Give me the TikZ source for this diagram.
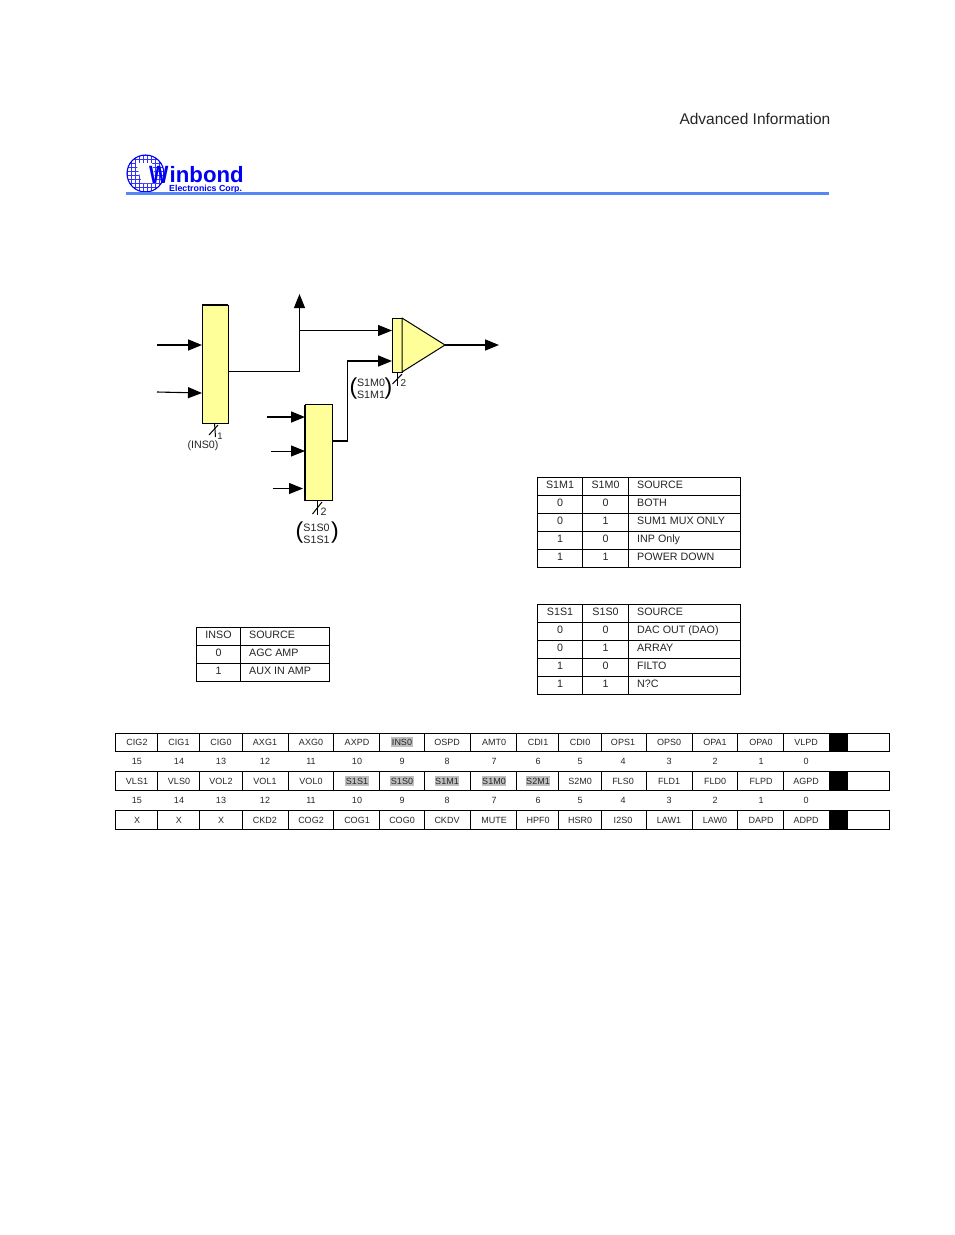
\documentclass[tikz,border=0pt]{standalone}
\usepackage{fontspec}
\setmainfont{Liberation Sans}
\usetikzlibrary{arrows.meta,calc}
\definecolor{muxfill}{RGB}{255,255,153}
\definecolor{wblue}{RGB}{0,0,245}
\definecolor{ruleblue}{RGB}{85,135,245}
\definecolor{hl}{RGB}{190,190,190}
\tikzset{
  x=1pt,y=-1pt,
  mux/.style={draw=black,fill=muxfill,line width=1pt,minimum width=26pt,inner sep=0,outer sep=0},
  sigthick/.style={line width=1.6pt,-{Triangle[length=14pt,width=11pt]}},
  sigthin/.style={line width=.9pt,-{Triangle[length=14pt,width=11pt]}},
  wire/.style={line width=1pt},
  wirethick/.style={line width=1.6pt},
  lbl/.style={font=\fontsize{10.7}{12}\selectfont,inner sep=0,text height=7.7pt,text depth=0pt,text=black!85},
  reg/.style={font=\fontsize{9}{11}\selectfont,inner sep=0,text height=6.5pt,text depth=0pt,text=black!85},
  reghl/.style={reg,fill=hl,inner xsep=.5pt,inner ysep=2pt},
  grid/.style={line width=.9pt,draw=black},
  gridfine/.style={line width=.4pt,draw=wblue!80}
}
\begin{document}
\begin{tikzpicture}
\useasboundingbox (0,0) rectangle (954,1235);
\fill[white] (0,0) rectangle (954,1235);
% header
\node[font=\fontsize{15.5}{17}\selectfont,anchor=east,inner sep=0,text=black!85] (hdr) at (830.5,119) {Advanced Information};
% logo
\begin{scope}
 \clip (145.5,173.5) circle (18.5);
 \foreach \i in {0,...,9} {
   \draw[gridfine] (127+4*\i,155)--(127+4*\i,192);
   \draw[gridfine] (127,155+4*\i)--(164,155+4*\i);
 }
 \fill[white] (136,163)--(152,163)--(156,183)--(142,183)--cycle;
\end{scope}
\draw[wblue,line width=1.1pt] (145.5,173.5) circle (18.5);
\node[font=\fontsize{25}{25}\bfseries\selectfont,text=wblue,anchor=base west,inner sep=0,xscale=.82] (logoW) at (149,183.5) {W};
\node[font=\fontsize{22.2}{24}\bfseries\selectfont,text=wblue,anchor=base west,inner sep=0] (logoT) at (169.5,182.5) {inbond};
\node[font=\fontsize{8.8}{10}\bfseries\selectfont,text=wblue,anchor=base west,inner sep=0] (logoS) at (169,191) {Electronics Corp.};
\path[fill=ruleblue,draw=ruleblue,line width=.5pt] (126,192.7) rectangle (828,194.1);

% diagram
\node[mux,minimum height=118pt,anchor=north west] (m1) at (202,305) {};
\draw[line width=1.8pt] (m1.north west)--(m1.north east);
\node[mux,minimum height=96pt,minimum width=27pt,anchor=north west] (m2) at (305,404.5) {};
\draw[line width=1.8pt] (m2.north west)--(m2.north east);
\draw[line width=1.8pt] (m2.north west)--(m2.south west);
\node[mux,minimum width=10pt,minimum height=54pt,anchor=north west] (m3) at (392,318) {};
\draw[black,fill=muxfill,line width=1pt,line join=round] (402,318)--(445,345)--(402,372)--cycle;
\coordinate (apex) at (445,345);

\coordinate (i1) at (157,345);
\coordinate (i2) at (157,392);
\coordinate (i3) at (267,417);
\coordinate (i4) at (271,451);
\coordinate (i5) at (272.5,488.5);
\coordinate (o) at (499,345);
\coordinate (up) at (299.5,294);
\draw[sigthick] (i1)--(m1.west |- i1);
\draw[sigthin,line width=1.1pt] (i2)--(202,393);
\draw[sigthick] (i3)--(m2.west |- i3);
\draw[sigthin] (i4)--(m2.west |- i4);
\draw[sigthin] (i5)--(303,488.5);
\draw[sigthick] (apex)--(o);
\coordinate (m1o) at (m1.east |- 0,371.5);
\draw[wire,-{Triangle[length=14pt,width=11pt]}] (m1o)-|(up);
\coordinate (branch) at (299.5,330.5);
\draw[sigthin] (branch)--(m3.west |- branch);
\coordinate (m2o) at (m2.east |- 0,441);
\coordinate (m3i) at (m3.west |- 0,361);
\draw[wirethick,line join=miter] (m2o)--(347.5,441)--(347.5,361)--(380,361);
\draw[sigthick] (347.5,361)--(m3i);

% bus ticks
\draw[wire] (214.5,423)--(215.5,437);
\draw[wire] (209,435)--(218,425);
\node[reg,font=\fontsize{9.5}{10}\selectfont] (n1) at (220,436) {1};
\node[lbl] (ins) at (203,444.5) {(INS0)};
\draw[wire] (317,500)--(317,515);
\draw[wire] (312.5,514)--(322,502);
\node[lbl] (n2) at (323.5,511.5) {2};
\draw[wire] (397,372)--(397,386);
\draw[wire] (392.5,384)--(402,374);
\node[reg,font=\fontsize{10}{10}\selectfont] (n3) at (403.5,383.5) {2};
\node[lbl] (s1s0) at (316.5,527.5) {S1S0};
\node[lbl] (s1s1) at (316.5,540) {S1S1};
\node[font=\fontsize{23}{24}\selectfont,inner sep=0] (p1) at (299.5,532.5) {(};
\node[font=\fontsize{23}{24}\selectfont,inner sep=0] (p2) at (335,532.5) {)};
\node[lbl] (s1m0) at (371,382.5) {S1M0};
\node[lbl] (s1m1) at (371,394.5) {S1M1};
\node[font=\fontsize{23}{24}\selectfont,inner sep=0] (p3) at (353.5,388.5) {(};
\node[font=\fontsize{23}{24}\selectfont,inner sep=0] (p4) at (388.5,388.5) {)};

% table S1M
\draw[grid] (537.5,477) rectangle (740.5,567);
\foreach \y in {495,513,531,549} \draw[grid] (537.5,\y)--(740.5,\y);
\foreach \x in {582.5,628.5} \draw[grid] (\x,477)--(\x,567);
\foreach \a/\b/\c [count=\n] in {S1M1/S1M0/SOURCE,0/0/BOTH,0/1/SUM1 MUX ONLY,1/0/INP Only,1/1/POWER DOWN} {
  \node[lbl] (ta\n) at (560,466.5+18*\n) {\a};
  \node[lbl] (tb\n) at (605.5,466.5+18*\n) {\b};
  \node[lbl,anchor=west] (tc\n) at (637,466.5+18*\n) {\c};
}
% table S1S
\draw[grid] (537.5,604.5) rectangle (740.5,694.5);
\foreach \y in {622.5,640.5,658.5,676.5} \draw[grid] (537.5,\y)--(740.5,\y);
\foreach \x in {582.5,628.5} \draw[grid] (\x,604.5)--(\x,694.5);
\foreach \a/\b/\c [count=\n] in {S1S1/S1S0/SOURCE,0/0/DAC OUT (DAO),0/1/ARRAY,1/0/FILTO,1/1/N?C} {
  \node[lbl] (ua\n) at (560,593.5+18*\n) {\a};
  \node[lbl] (ub\n) at (605.5,593.5+18*\n) {\b};
  \node[lbl,anchor=west] (uc\n) at (637,593.5+18*\n) {\c};
}
% table INS
\draw[grid] (196.5,627.5) rectangle (329.5,681.5);
\foreach \y in {645.5,663.5} \draw[grid] (196.5,\y)--(329.5,\y);
\draw[grid] (240.5,627.5)--(240.5,681.5);
\foreach \a/\c [count=\n] in {INSO/SOURCE,0/AGC AMP,1/AUX IN AMP} {
  \node[lbl] (va\n) at (218.5,616.5+18*\n) {\a};
  \node[lbl,anchor=west] (vc\n) at (249,616.5+18*\n) {\c};
}
% registers
\foreach \t/\b in {733/751,771.5/790.5,810.5/829.5} {
  \draw[grid] (115.5,\t) rectangle (889.5,\b);
  \foreach \x in {157.5,199.5,242.5,288.5,333.5,379.5,424.5,470.5,516.5,558.5,601.5,646.5,692.5,737.5,783.5,829.5}
    \draw[grid] (\x,\t)--(\x,\b);
  \fill[black] (829.5,\t) rectangle (848,\b);
}
\def\colx{137,179,221,265,311,357,402,447,494,538,580,623,669,715,761,806}
\foreach \x [count=\n] in \colx {
  \pgfmathtruncatemacro\v{16-\n}
  \node[reg] (na\n) at (\x,761) {\v};
  \node[reg] (nb\n) at (\x,800) {\v};
}
\foreach \x/\s/\h [count=\n] in {137/CIG2/reg,179/CIG1/reg,221/CIG0/reg,265/AXG1/reg,311/AXG0/reg,357/AXPD/reg,402/INS0/reghl,447/OSPD/reg,494/AMT0/reg,538/CDI1/reg,580/CDI0/reg,623/OPS1/reg,669/OPS0/reg,715/OPA1/reg,761/OPA0/reg,806/VLPD/reg}
  \node[\h] (ra\n) at (\x,742) {\s};
\foreach \x/\s/\h [count=\n] in {137/VLS1/reg,179/VLS0/reg,221/VOL2/reg,265/VOL1/reg,311/VOL0/reg,357/S1S1/reghl,402/S1S0/reghl,447/S1M1/reghl,494/S1M0/reghl,538/S2M1/reghl,580/S2M0/reg,623/FLS0/reg,669/FLD1/reg,715/FLD0/reg,761/FLPD/reg,806/AGPD/reg}
  \node[\h] (rb\n) at (\x,781) {\s};
\foreach \x/\s [count=\n] in {137/X,179/X,221/X,265/CKD2,311/COG2,357/COG1,402/COG0,447/CKDV,494/MUTE,538/HPF0,580/HSR0,623/I2S0,669/LAW1,715/LAW0,761/DAPD,806/ADPD}
  \node[reg] (rc\n) at (\x,820) {\s};
\end{tikzpicture}
\end{document}
